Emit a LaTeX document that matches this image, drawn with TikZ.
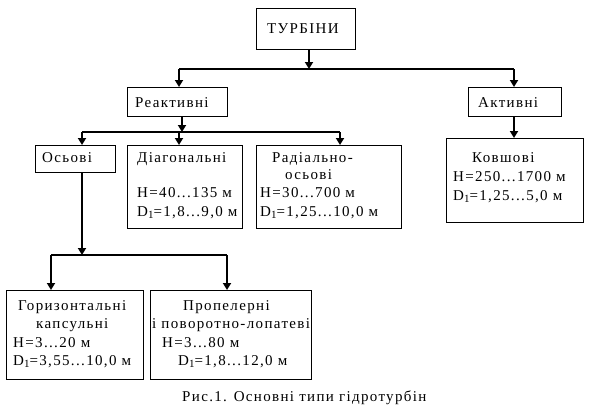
\documentclass[tikz,border=0pt]{standalone}
\usepackage{fontspec}
\setmainfont{Liberation Serif}[LetterSpace=9]
\usetikzlibrary{arrows.meta}
\newcommand\sub[1]{\raisebox{-2pt}{\fontsize{11}{11}\selectfont #1}}
\begin{document}
\begin{tikzpicture}[x=1pt,y=-1pt,
  box/.style={draw, line width=1pt, inner sep=0pt, anchor=north west},
  txt/.style={anchor=base west, inner sep=0pt, font=\fontsize{15}{18}\selectfont},
  bus/.style={line width=1.2pt},
  stem/.style={line width=2.6pt, -{Triangle[width=8pt,length=7pt]}}]
\useasboundingbox (0,0) rectangle (610,413);
% boxes
\node[box, minimum width=99pt, minimum height=41pt] (t) at (256,8) {};
\node[box, minimum width=100pt, minimum height=29pt] (r) at (127,87) {};
\node[box, minimum width=93pt, minimum height=29pt] (a) at (468,87) {};
\node[box, minimum width=80pt, minimum height=27pt] (o) at (35,145) {};
\node[box, minimum width=115pt, minimum height=83pt] (d) at (127,145) {};
\node[box, minimum width=145pt, minimum height=83pt] (rad) at (256,145) {};
\node[box, minimum width=137pt, minimum height=84pt] (k) at (446,138) {};
\node[box, minimum width=137pt, minimum height=89pt] (g) at (6,290) {};
\node[box, minimum width=161pt, minimum height=89pt] (p) at (150,290) {};
% texts
\node[txt] (t1) at (267,33) {ТУРБІНИ};
\node[txt] (r1) at (135,107) {Реактивні};
\node[txt] (a1) at (478,107) {Активні};
\node[txt] (o1) at (42,162) {Осьові};
\node[txt] (d1) at (137,162) {Діагональні};
\node[txt] (d2) at (137,197) {H=40...135 м};
\node[txt] (d3) at (137,216) {D\sub{1}=1,8...9,0 м};
\node[txt] (rad1) at (272,162) {Радіально-};
\node[txt] (rad2) at (285,179) {осьові};
\node[txt] (rad3) at (260,197) {H=30...700 м};
\node[txt] (rad4) at (260,216) {D\sub{1}=1,25...10,0 м};
\node[txt] (k1) at (472,162) {Ковшові};
\node[txt] (k2) at (453,181) {H=250...1700 м};
\node[txt] (k3) at (453,200) {D\sub{1}=1,25...5,0 м};
\node[txt] (g1) at (18,310) {Горизонтальні};
\node[txt] (g2) at (36,328) {капсульні};
\node[txt] (g3) at (13,347) {H=3...20 м};
\node[txt] (g4) at (13,365) {D\sub{1}=3,55...10,0 м};
\node[txt] (p1) at (183,310) {Пропелерні};
\node[txt] (p2) at (152,328) {і поворотно-лопатеві};
\node[txt] (p3) at (162,347) {H=3...80 м};
\node[txt] (p4) at (178,365) {D\sub{1}=1,8...12,0 м};
\node[txt] (cap) at (182,401) {Рис.1. Основні типи гідротурбін};
% connectors level 1
\coordinate (b1l) at (179,69);
\coordinate (b1r) at (514,69);
\coordinate (b1s) at (309,69);
\draw[bus] (b1l) -- (b1r);
\draw[stem] (b1s |- t.south) -- (b1s);
\draw[stem] (b1l) -- (b1l |- r.north);
\draw[stem] (b1r) -- (b1r |- a.north);
\draw[stem] (b1r |- a.south) -- (b1r |- k.north);
% level 2
\coordinate (b2l) at (82,132);
\coordinate (b2m) at (179,132);
\coordinate (b2r) at (340,132);
\coordinate (b2s) at (182,132);
\draw[bus] (b2l) -- (b2r);
\draw[stem] (b2s |- r.south) -- (b2s);
\draw[stem] (b2l) -- (b2l |- o.north);
\draw[stem] (b2m) -- (b2m |- d.north);
\draw[stem] (b2r) -- (b2r |- rad.north);
% level 3
\coordinate (b3l) at (51,255);
\coordinate (b3r) at (227,255);
\coordinate (b3s) at (82,255);
\draw[bus] (b3l) -- (b3r);
\draw[stem] (b3s |- o.south) -- (b3s);
\draw[stem] (b3l) -- (b3l |- g.north);
\draw[stem] (b3r) -- (b3r |- p.north);
\end{tikzpicture}
\end{document}
